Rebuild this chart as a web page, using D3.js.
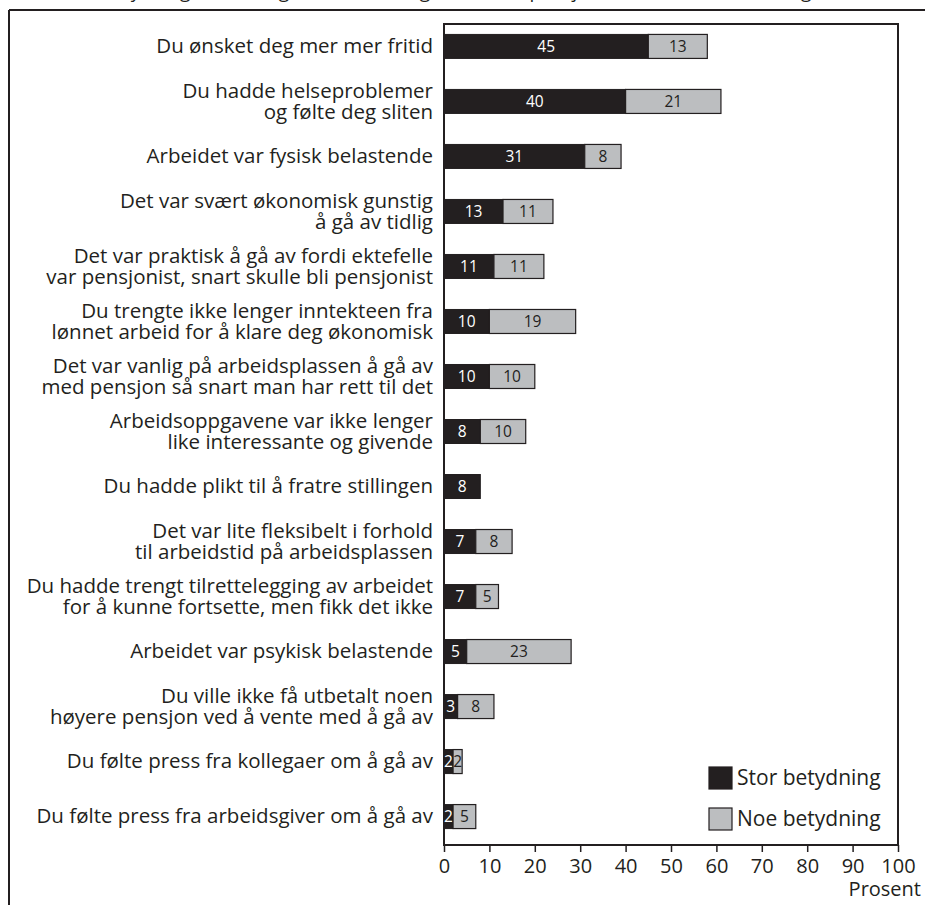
<!DOCTYPE html>
<html><head><meta charset="utf-8">
<script src="https://cdn.jsdelivr.net/npm/d3@7"></script>
<style>
html,body{margin:0;padding:0;background:#fff;}
svg{display:block;font-family:"Open Sans",sans-serif;}
</style></head>
<body>
<script>
const categories = [
  ["Du ønsket deg mer mer fritid"],
  ["Du hadde helseproblemer","og følte deg sliten"],
  ["Arbeidet var fysisk belastende"],
  ["Det var svært økonomisk gunstig","å gå av tidlig"],
  ["Det var praktisk å gå av fordi ektefelle","var pensjonist, snart skulle bli pensjonist"],
  ["Du trengte ikke lenger inntekteen fra","lønnet arbeid for å klare deg økonomisk"],
  ["Det var vanlig på arbeidsplassen å gå av","med pensjon så snart man har rett til det"],
  ["Arbeidsoppgavene var ikke lenger","like interessante og givende"],
  ["Du hadde plikt til å fratre stillingen"],
  ["Det var lite fleksibelt i forhold","til arbeidstid på arbeidsplassen"],
  ["Du hadde trengt tilrettelegging av arbeidet","for å kunne fortsette, men fikk det ikke"],
  ["Arbeidet var psykisk belastende"],
  ["Du ville ikke få utbetalt noen","høyere pensjon ved å vente med å gå av"],
  ["Du følte press fra kollegaer om å gå av"],
  ["Du følte press fra arbeidsgiver om å gå av"]
];
const storBetydning = [45,40,31,13,11,10,10,8,8,7,7,5,3,2,2];
const noeBetydning  = [13,21,8,11,11,19,10,10,null,8,5,23,8,2,5];
const seriesNames = ["Stor betydning","Noe betydning"];
const xTicks = [0,10,20,30,40,50,60,70,80,90,100];
const axisTitle = "Prosent";
const titleText = "Hvor stor betydning hadde følgende for at du gikk av med pensjon? Prosent av alle i utvalget";

const W = 925, H = 905;
const colors = ["#231f20","#bcbec0"];
const svg = d3.select("body").append("svg").attr("width",W).attr("height",H);

// clipped title at top
svg.append("text").attr("x",14).attr("y",-2).attr("font-size",19).attr("fill","#231f20").text(titleText);

// outer frame (top + left)
svg.append("line").attr("x1",9).attr("x2",W).attr("y1",10).attr("y2",10).attr("stroke","#231f20").attr("stroke-width",2);
svg.append("line").attr("x1",9).attr("x2",9).attr("y1",10).attr("y2",H).attr("stroke","#231f20").attr("stroke-width",2);

const plot = {l:444, r:898, t:24, b:845};
const x = d3.scaleLinear().domain([0,100]).range([plot.l, plot.r]);
const y = d3.scaleBand().domain(d3.range(categories.length)).range([plot.t-7, plot.b+1]).paddingInner(0.57).paddingOuter(0.32);

// plot box
svg.append("rect").attr("x",plot.l).attr("y",plot.t).attr("width",plot.r-plot.l).attr("height",plot.b-plot.t)
  .attr("fill","none").attr("stroke","#231f20").attr("stroke-width",2);

const bh = 24;
const cy = i => y(i) + y.bandwidth()/2;

categories.forEach((lines,i) => {
  const c = cy(i);
  const s = storBetydning[i], n = noeBetydning[i];
  svg.append("rect").attr("x",x(0)).attr("y",c-bh/2).attr("width",x(s)-x(0)).attr("height",bh)
    .attr("fill",colors[0]).attr("stroke","#231f20").attr("stroke-width",1);
  svg.append("text").attr("x",(x(0)+x(s))/2).attr("y",c).attr("dy","0.36em").attr("text-anchor","middle")
    .attr("font-size",15.5).attr("fill","#fff").text(s);
  if (n != null) {
    svg.append("rect").attr("x",x(s)).attr("y",c-bh/2).attr("width",x(s+n)-x(s)).attr("height",bh)
      .attr("fill",colors[1]).attr("stroke","#231f20").attr("stroke-width",1.2);
    svg.append("text").attr("x",(x(s)+x(s+n))/2).attr("y",c).attr("dy","0.36em").attr("text-anchor","middle")
      .attr("font-size",15.5).attr("fill","#231f20").text(n);
  }
  const t = svg.append("text").attr("text-anchor","end").attr("font-size",20.5).attr("fill","#231f20");
  const lh = 21;
  lines.forEach((ln,k) => {
    t.append("tspan").attr("x",433).attr("y", c + (k-(lines.length-1)/2)*lh).attr("dy","0.33em").text(ln);
  });
});

// axis
const ax = svg.append("g").attr("transform",`translate(0,${plot.b})`)
  .call(d3.axisBottom(x).tickValues(xTicks).tickSize(7).tickSizeOuter(0));
ax.select(".domain").remove();
ax.selectAll("line").attr("stroke","#231f20").attr("stroke-width",1.5);
ax.selectAll("text").attr("font-size",20).attr("fill","#231f20").attr("font-family","Open Sans, sans-serif").attr("dy","0.88em");
svg.append("text").attr("x",921).attr("y",896).attr("text-anchor","end").attr("font-size",20).attr("fill","#231f20").text(axisTitle);

// legend
const lg = [[709,767],[709,808]];
seriesNames.forEach((nm,i) => {
  svg.append("rect").attr("x",lg[i][0]).attr("y",lg[i][1]).attr("width",23).attr("height",22)
    .attr("fill",colors[i]).attr("stroke","#231f20").attr("stroke-width",1.2);
  svg.append("text").attr("x",737).attr("y",lg[i][1]+11).attr("dy","0.35em").attr("font-size",21).attr("fill","#231f20").text(nm);
});
</script>
</body></html>
